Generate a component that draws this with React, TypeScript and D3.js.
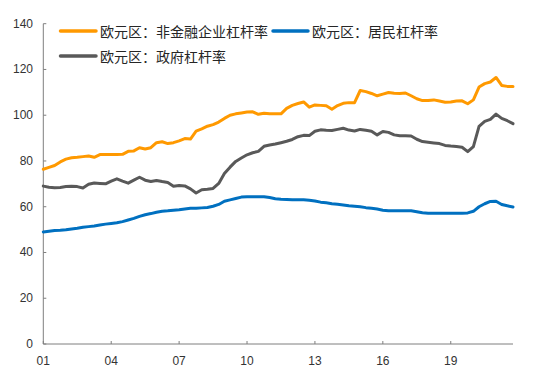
import React from "react";
import * as d3 from "d3";

const xTickLabels = ["01", "04", "07", "10", "13", "16", "19"];
const yTicks = [0, 20, 40, 60, 80, 100, 120, 140];

const seriesNames = ["欧元区：非金融企业杠杆率", "欧元区：居民杠杆率", "欧元区：政府杠杆率"];

// quarterly, 2001Q1 .. 2021Q4
const nfcLeverage = [
  76.4, 77.2, 78.0, 79.6, 80.8, 81.4, 81.6, 81.9, 82.2, 81.6,
  82.8, 82.8, 82.8, 82.8, 82.9, 84.2, 84.4, 85.8, 85.2, 85.8,
  88.0, 88.4, 87.6, 88.0, 88.8, 89.8, 89.6, 93.0, 94.0, 95.2,
  95.9, 97.0, 98.6, 100.0, 100.6, 101.0, 101.4, 101.5, 100.4, 100.9,
  100.6, 100.6, 100.6, 103.0, 104.3, 105.1, 105.8, 103.5, 104.5, 104.3,
  104.1, 102.6, 104.2, 105.2, 105.5, 105.5, 110.8, 110.3, 109.5, 108.5,
  109.2, 109.9, 109.6, 109.5, 109.7, 108.5, 107.2, 106.4, 106.4, 106.7,
  106.2, 105.7, 105.8, 106.2, 106.3, 105.0, 106.7, 112.3, 113.8, 114.5,
  116.5, 113.0, 112.6, 112.6,
];

const householdLeverage = [
  49.0, 49.3, 49.6, 49.7, 49.9, 50.3, 50.6, 51.0, 51.3, 51.6,
  52.0, 52.4, 52.7, 53.0, 53.5, 54.2, 54.9, 55.8, 56.5, 57.0,
  57.6, 58.0, 58.2, 58.5, 58.7, 59.0, 59.3, 59.3, 59.5, 59.7,
  60.2, 61.0, 62.4, 63.0, 63.6, 64.2, 64.4, 64.4, 64.4, 64.4,
  64.0, 63.5, 63.3, 63.2, 63.0, 63.0, 63.0, 62.8, 62.5, 62.0,
  61.7, 61.3, 61.1, 60.8, 60.4, 60.2, 60.0, 59.6, 59.3, 59.0,
  58.5, 58.2, 58.2, 58.2, 58.2, 58.2, 57.8, 57.4, 57.2, 57.2,
  57.2, 57.2, 57.2, 57.2, 57.2, 57.3, 58.0, 60.0, 61.3, 62.3,
  62.4, 61.0, 60.4, 59.9,
];

const govLeverage = [
  69.0, 68.5, 68.3, 68.4, 68.8, 68.9, 68.8, 68.2, 69.8, 70.4,
  70.2, 70.0, 71.2, 72.2, 71.2, 70.3, 71.6, 72.9, 71.6, 71.0,
  71.5, 71.0, 70.6, 69.0, 69.3, 69.1, 67.8, 66.0, 67.4, 67.6,
  68.0, 70.2, 74.5, 77.3, 79.8, 81.3, 82.7, 83.6, 84.2, 86.4,
  87.0, 87.4, 88.0, 88.6, 89.4, 90.6, 91.2, 91.1, 93.0, 93.6,
  93.4, 93.3, 93.8, 94.3, 93.5, 93.1, 93.8, 93.4, 93.0, 91.4,
  92.9, 92.5, 91.4, 91.0, 91.0, 90.9, 89.5, 88.5, 88.2, 87.9,
  87.6, 86.8, 86.5, 86.3, 86.0, 84.1, 86.3, 95.1, 97.3, 98.2,
  100.5, 98.6, 97.6, 96.3,
];

const colors = ["#FF9900", "#0070C0", "#595959"];

export default function App() {
  const W = 546;
  const H = 382;
  const x = d3.scaleLinear().domain([0, nfcLeverage.length - 1]).range([43.3, 513]);
  const y = d3.scaleLinear().domain([0, 140]).range([344, 23.7]);
  const line = d3
    .line<number>()
    .x((_, i) => x(i))
    .y((d) => y(d));

  const series = [nfcLeverage, householdLeverage, govLeverage];
  const axisColor = "#7f7f7f";
  const labelFont = "'Liberation Sans', Arial, sans-serif";
  const cjkFont = "'Noto Sans CJK SC', sans-serif";

  const legend = [
    { x1: 60.5, x2: 96, y: 31, tx: 100, name: seriesNames[0], color: colors[0] },
    { x1: 273, x2: 308, y: 31, tx: 312, name: seriesNames[1], color: colors[1] },
    { x1: 60.5, x2: 96, y: 56, tx: 100, name: seriesNames[2], color: colors[2] },
  ];

  return (
    <svg
      width={W}
      height={H}
      style={{ position: "absolute", left: 0, top: 0, background: "#fff" }}
    >
      {/* y axis */}
      <line x1={x(0)} x2={x(0)} y1={y(0)} y2={y(140)} stroke={axisColor} strokeWidth={1} />
      {yTicks.map((t) => (
        <g key={t}>
          <line x1={x(0)} x2={x(0) + 3} y1={y(t)} y2={y(t)} stroke={axisColor} />
          <text
            x={33}
            y={y(t)}
            textAnchor="end"
            dominantBaseline="central"
            fontFamily={labelFont}
            fontSize={12}
            fill="#333"
          >
            {t}
          </text>
        </g>
      ))}
      {/* x axis */}
      <line x1={x(0)} x2={x(nfcLeverage.length - 1)} y1={y(0)} y2={y(0)} stroke={axisColor} />
      {xTickLabels.map((lab, k) => (
        <g key={lab}>
          <line x1={x(k * 12)} x2={x(k * 12)} y1={y(0)} y2={y(0) - 3} stroke={axisColor} />
          <text
            x={x(k * 12)}
            y={365}
            textAnchor="middle"
            fontFamily={labelFont}
            fontSize={12}
            fill="#333"
          >
            {lab}
          </text>
        </g>
      ))}
      {/* lines */}
      {series.map((s, k) => (
        <path
          key={k}
          d={line(s) || ""}
          fill="none"
          stroke={colors[k]}
          strokeWidth={3}
          strokeLinejoin="round"
          strokeLinecap="round"
        />
      ))}
      {/* legend */}
      {legend.map((l) => (
        <g key={l.name}>
          <line
            x1={l.x1}
            x2={l.x2}
            y1={l.y}
            y2={l.y}
            stroke={l.color}
            strokeWidth={3.5}
            strokeLinecap="round"
          />
          <text
            x={l.tx}
            y={l.y}
            dominantBaseline="central"
            fontFamily={cjkFont}
            fontSize={14}
            fill="#262626"
          >
            {l.name}
          </text>
        </g>
      ))}
    </svg>
  );
}
